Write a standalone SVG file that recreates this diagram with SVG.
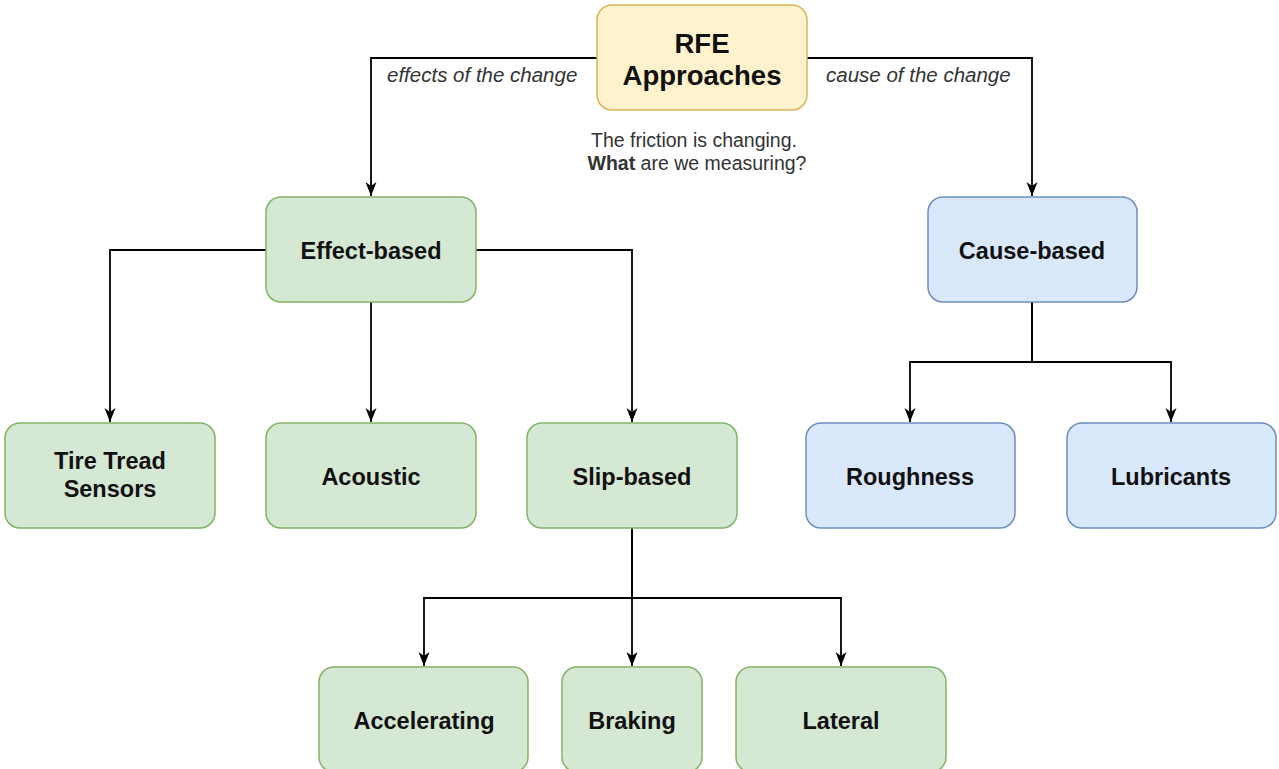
<svg xmlns="http://www.w3.org/2000/svg" width="1279" height="769" viewBox="0 0 1279 769">
<style>
.g{fill:#d5e8d4;stroke:#82b366;stroke-width:1.5}
.b{fill:#dae8fc;stroke:#6c8ebf;stroke-width:1.5}
.y{fill:#fff2cc;stroke:#d6b656;stroke-width:1.5}
.t{font-family:"Liberation Sans",Arial,sans-serif;font-weight:bold;font-size:23.5px;fill:#111;text-anchor:middle}
.big{font-size:27.5px}
.lab{font-family:"Liberation Sans",Arial,sans-serif;font-style:italic;font-size:20.5px;fill:#333}
.note{font-family:"Liberation Sans",Arial,sans-serif;font-size:19.5px;fill:#333;text-anchor:middle}
.c{fill:none;stroke:#000;stroke-width:1.8}
</style>
<defs>
<marker id="arr" viewBox="0 0 14 14" refX="14" refY="7" markerWidth="14" markerHeight="14" markerUnits="userSpaceOnUse" orient="auto">
<path d="M0,1.5 L14,7 L0,12.5 L4,7 z" fill="#000"/>
</marker>
</defs>
<rect width="1279" height="769" fill="#fff"/>
<g id="connectors">
<path class="c" d="M597,58 H371 V196" marker-end="url(#arr)"/>
<path class="c" d="M807,58 H1032 V196" marker-end="url(#arr)"/>
<path class="c" d="M266,250 H110 V422" marker-end="url(#arr)"/>
<path class="c" d="M371,302 V422" marker-end="url(#arr)"/>
<path class="c" d="M476,250 H632 V422" marker-end="url(#arr)"/>
<path class="c" d="M632,528 V598 H424 V666" marker-end="url(#arr)"/>
<path class="c" d="M632,528 V666" marker-end="url(#arr)"/>
<path class="c" d="M632,528 V598 H841 V666" marker-end="url(#arr)"/>
<path class="c" d="M1032,302 V362 H910 V422" marker-end="url(#arr)"/>
<path class="c" d="M1032,302 V362 H1171 V422" marker-end="url(#arr)"/>
<text class="lab" x="387" y="82">effects of the change</text>
<text class="lab" x="826" y="82">cause of the change</text>
</g>
<g id="rfe">
<rect class="y" x="597" y="5" width="210" height="105" rx="15"/>
<text class="t big" x="702" y="53">RFE</text>
<text class="t big" x="702" y="85">Approaches</text>
</g>
<g id="note">
<text class="note" x="694" y="147">The friction is changing.</text>
<text class="note" x="697" y="170"><tspan font-weight="bold">What</tspan> are we measuring?</text>
</g>
<g id="effect">
<rect class="g" x="266" y="197" width="210" height="105" rx="15"/>
<text class="t" x="371" y="259">Effect-based</text>
</g>
<g id="cause">
<rect class="b" x="928" y="197" width="209" height="105" rx="15"/>
<text class="t" x="1032" y="259">Cause-based</text>
</g>
<g id="tire">
<rect class="g" x="5" y="423" width="210" height="105" rx="15"/>
<text class="t" x="110" y="469">Tire Tread</text>
<text class="t" x="110" y="497">Sensors</text>
</g>
<g id="acoustic">
<rect class="g" x="266" y="423" width="210" height="105" rx="15"/>
<text class="t" x="371" y="485">Acoustic</text>
</g>
<g id="slip">
<rect class="g" x="527" y="423" width="210" height="105" rx="15"/>
<text class="t" x="632" y="485">Slip-based</text>
</g>
<g id="roughness">
<rect class="b" x="806" y="423" width="209" height="105" rx="15"/>
<text class="t" x="910" y="485">Roughness</text>
</g>
<g id="lubricants">
<rect class="b" x="1067" y="423" width="209" height="105" rx="15"/>
<text class="t" x="1171" y="485">Lubricants</text>
</g>
<g id="accelerating">
<rect class="g" x="319" y="667" width="209" height="105" rx="15"/>
<text class="t" x="424" y="729">Accelerating</text>
</g>
<g id="braking">
<rect class="g" x="562" y="667" width="140" height="105" rx="15"/>
<text class="t" x="632" y="729">Braking</text>
</g>
<g id="lateral">
<rect class="g" x="736" y="667" width="210" height="105" rx="15"/>
<text class="t" x="841" y="729">Lateral</text>
</g>
</svg>
